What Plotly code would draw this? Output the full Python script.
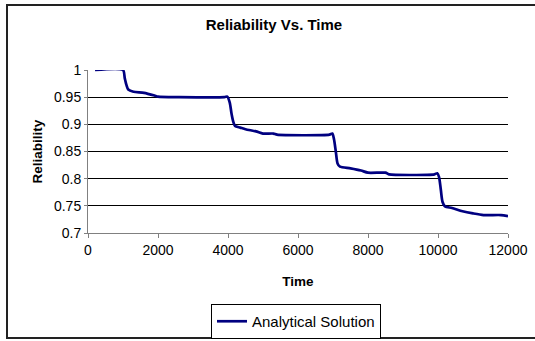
import plotly.graph_objects as go

time = [200, 1000, 1050, 1100, 1150, 1300, 1600, 1900, 2000, 2600, 3900, 3980, 4050, 4100, 4150, 4200,
        4350, 4500, 4800, 5000, 5300, 5400, 6900, 6980, 7030, 7080, 7130, 7200, 7500, 7800, 8000,
        8500, 8600, 9900, 9980, 10030, 10080, 10130, 10200, 10400, 10700, 11000, 11300, 11800, 12000]
reliability = [1.0, 1.0, 0.985, 0.972, 0.964, 0.96, 0.958, 0.953, 0.951, 0.95, 0.95, 0.951, 0.94, 0.92,
               0.905, 0.897, 0.894, 0.891, 0.887, 0.883, 0.883, 0.881, 0.881, 0.883, 0.872, 0.85, 0.828,
               0.822, 0.819, 0.815, 0.811, 0.811, 0.808, 0.808, 0.81, 0.803, 0.78, 0.757, 0.749, 0.746,
               0.74, 0.736, 0.733, 0.733, 0.731]
x_ticks = [0, 2000, 4000, 6000, 8000, 10000, 12000]
x_tick_labels = ["0", "2000", "4000", "6000", "8000", "10000", "12000"]
y_ticks = [0.7, 0.75, 0.8, 0.85, 0.9, 0.95, 1]
y_tick_labels = ["0.7", "0.75", "0.8", "0.85", "0.9", "0.95", "1"]

FONT = "Liberation Sans, Arial, sans-serif"
L, R, T, B = 88, 27, 70, 108
W, H = 535, 341
pw, ph = W - L - R, H - T - B

def px(x):
    return (x - L) / pw

def py(y):
    return (H - B - y) / ph

fig = go.Figure()
fig.add_trace(go.Scatter(x=time, y=reliability, mode="lines", name="Analytical Solution",
                         line=dict(color="#000080", width=2.7, shape="spline", smoothing=0.7)))

fig.update_layout(
    width=W, height=H,
    margin=dict(l=L, r=R, t=T, b=B, autoexpand=False),
    paper_bgcolor="white", plot_bgcolor="white",
    font=dict(family=FONT, size=14, color="black"),
    title=dict(text="<b>Reliability Vs. Time</b>", x=274 / W, xanchor="center",
               y=1 - 25 / H, yanchor="middle", font=dict(size=15, family=FONT)),
    showlegend=True,
    legend=dict(x=px(296), xanchor="center", y=py(304), yanchor="top",
                orientation="h", bordercolor="black", borderwidth=1,
                font=dict(size=15, family=FONT), bgcolor="white",
                itemwidth=30, tracegroupgap=0),
    xaxis=dict(range=[0, 12000], tickvals=x_ticks, ticktext=x_tick_labels,
               showgrid=False, zeroline=False,
               showline=True, linecolor="#808080", linewidth=1,
               ticks="outside", ticklen=4, tickcolor="#808080",
               title=dict(text="<b>Time</b>", font=dict(size=13.5, family=FONT), standoff=19),
               tickfont=dict(size=14, family=FONT)),
    yaxis=dict(range=[0.7, 1.0], tickvals=y_ticks, ticktext=y_tick_labels,
               showgrid=True, gridcolor="black", gridwidth=1, zeroline=False,
               showline=True, linecolor="#808080", linewidth=1,
               ticks="outside", ticklen=3, tickcolor="#808080",
               title=dict(text="<b>Reliability</b>", font=dict(size=13.5, family=FONT), standoff=8),
               tickfont=dict(size=14, family=FONT)),
    shapes=[dict(type="rect", xref="paper", yref="paper",
                 x0=px(7), x1=px(560), y0=py(338), y1=py(5),
                 line=dict(color="#222222", width=2), fillcolor="rgba(0,0,0,0)", layer="below")],
)

fig.write_html("out.html")
